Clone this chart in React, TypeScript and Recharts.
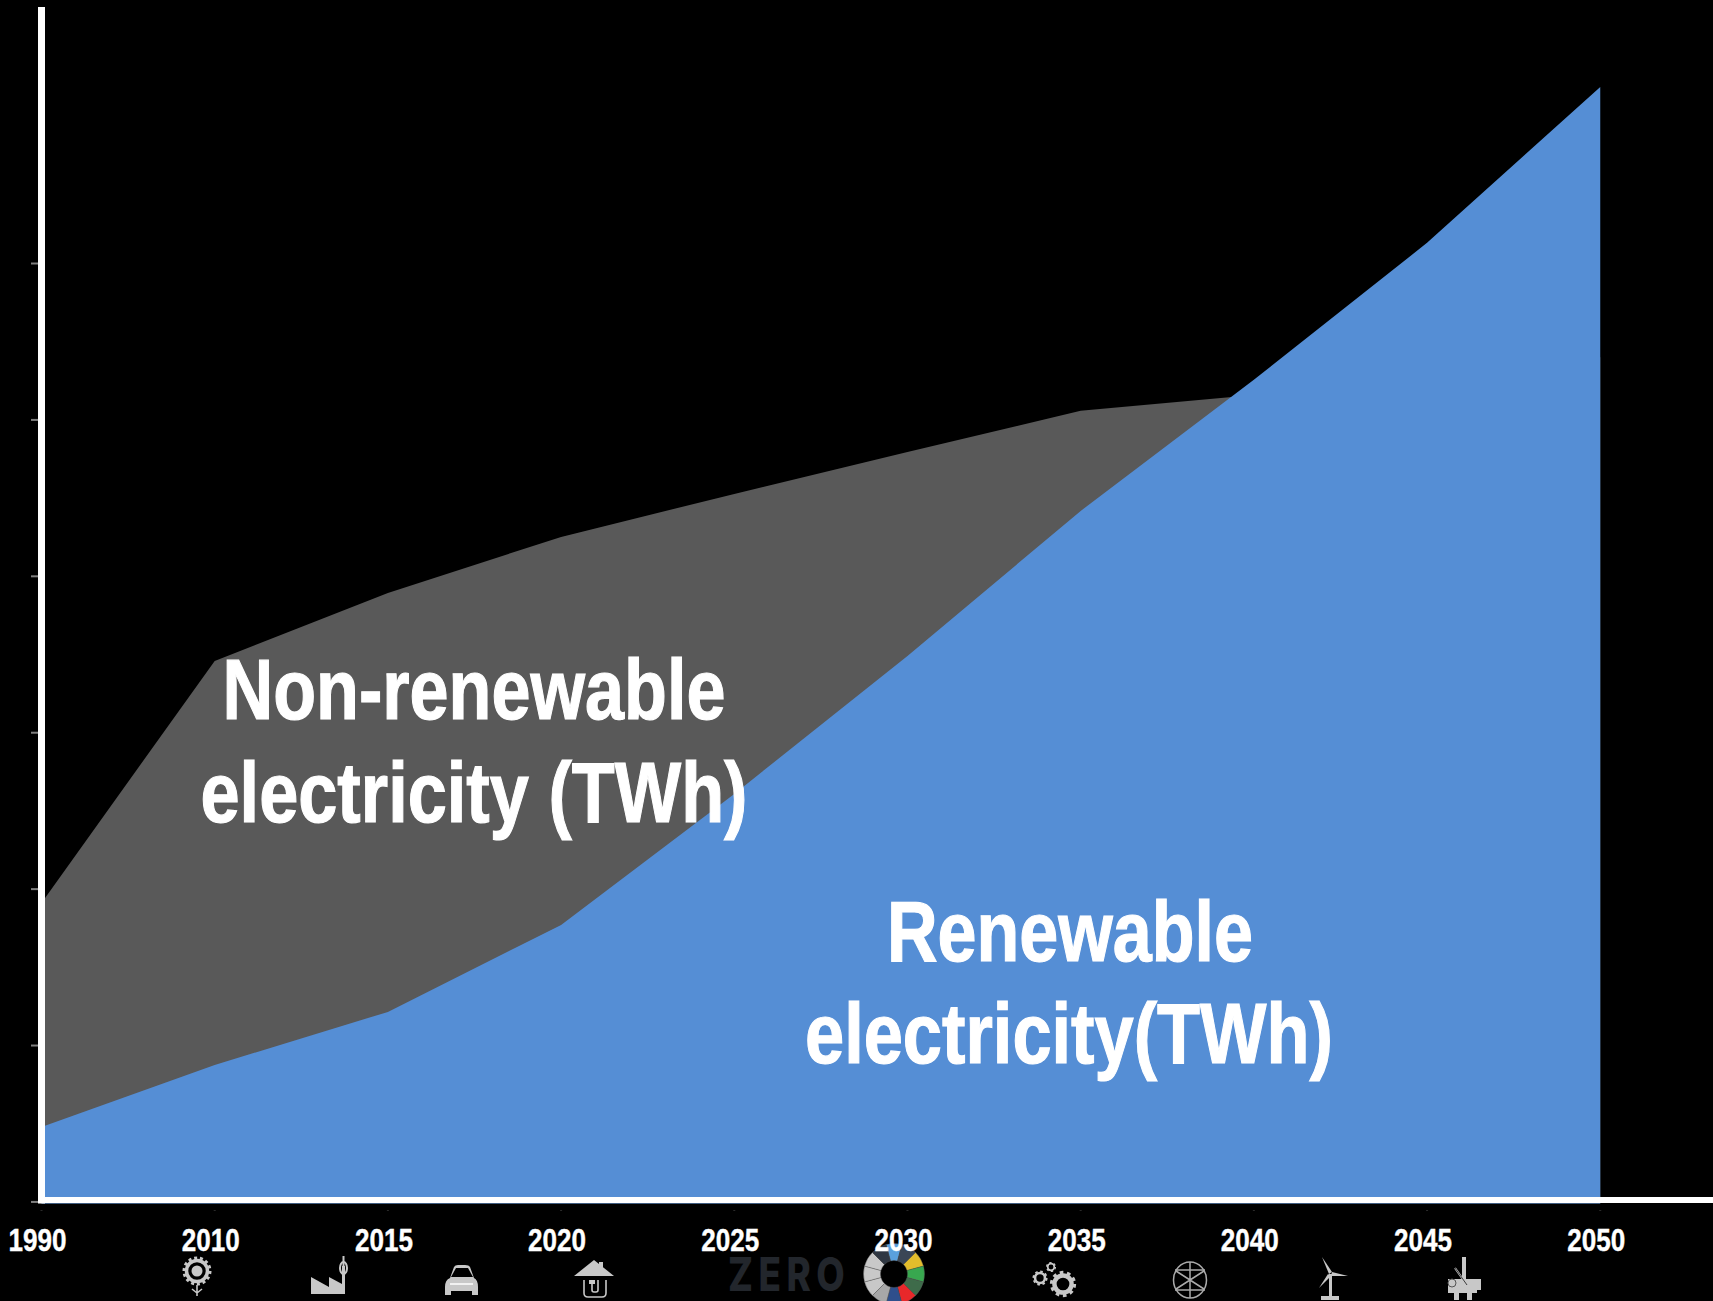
import React from 'react';
import { AreaChart, Area, XAxis, YAxis } from 'recharts';

const years = ['1990', '2010', '2015', '2020', '2025', '2030', '2035', '2040', '2045', '2050'];
const slots = [0, 1, 2, 3, 4, 5, 6, 7, 8, 9];
const renewable = [4790, 8760, 12150, 17710, 26090, 34910, 44180, 52560, 61320, 71290];
// total generation; the last two years sit behind the renewable area
const nonRenewable = [19120, 34590, 38940, 42520, 45270, 47950, 50580, 51600, 53000, 54000];
const valueTicks = [0, 10000, 20000, 30000, 40000, 50000, 60000];

const data = years.map((year, i) => ({
  year,
  slot: slots[i],
  renewable: renewable[i],
  nonRenewable: nonRenewable[i],
}));

// no narrow face is installed, so text is squeezed to width with textLength
const LABEL_FONT = '"Liberation Sans", Arial, sans-serif';
const ICON = '#c8c8c8';

const wheelColors = [
  '#5aa0dd', '#3a4656', '#e3bd2c', '#38a84f', '#3e6b4a', '#e8282a',
  '#2f4f8c', '#a8a8a8', '#c8c8c8', '#c8c8c8', '#c8c8c8', '#2f3742',
];

const YearTick = ({ x, payload }: any) => (
  <g>
    <rect x={x - 1} y={1210} width={2} height={1} fill="#2a2a2a" />
    <text
      x={x - 4}
      y={1251}
      textAnchor="middle"
      textLength={58}
      lengthAdjust="spacingAndGlyphs"
      fill="#fff"
      stroke="#fff"
      strokeWidth={0.4}
      fontFamily={LABEL_FONT}
      fontWeight={700}
      fontSize={32}
    >
      {years[payload.value]}
    </text>
  </g>
);

const ValueTick = ({ y }: any) => <rect x={31} y={y - 1} width={7} height={2} fill="#7f7f7f" />;

function slicePath(cx: number, cy: number, r0: number, r1: number, a0: number, a1: number) {
  const pt = (r: number, a: number) => {
    const rad = ((a - 90) * Math.PI) / 180;
    return `${cx + r * Math.cos(rad)} ${cy + r * Math.sin(rad)}`;
  };
  return `M${pt(r1, a0)} A${r1} ${r1} 0 0 1 ${pt(r1, a1)} L${pt(r0, a1)} A${r0} ${r0} 0 0 0 ${pt(r0, a0)} Z`;
}

const Gear = ({ cx, cy, r, teeth }: { cx: number; cy: number; r: number; teeth: number }) => {
  const toothR = r * 0.88;
  const dash = (2 * Math.PI * toothR) / teeth / 2;
  return (
    <g fill="none" stroke={ICON}>
      <circle cx={cx} cy={cy} r={r * 0.66} strokeWidth={r * 0.34} />
      <circle cx={cx} cy={cy} r={toothR} strokeWidth={r * 0.26} strokeDasharray={`${dash} ${dash}`} />
    </g>
  );
};

// sector pictograms and the ZERO logo along the bottom edge
const IconStrip = () => (
  <svg width={1713} height={1301} style={{ position: 'absolute', left: 0, top: 0 }}>
    {/* sunflower */}
    <circle cx={197} cy={1271} r={10.5} fill="none" stroke={ICON} strokeWidth={3.5} />
    <circle cx={197} cy={1271} r={13} fill="none" stroke={ICON} strokeWidth={3} strokeDasharray="3 2.8" />
    <circle cx={197} cy={1271} r={5.5} fill={ICON} />
    <path d="M197 1285V1296M197 1293L192 1289M197 1293L202 1289" stroke={ICON} strokeWidth={1.6} fill="none" />
    {/* factory */}
    <path d="M311 1277L329 1287V1277L342 1284V1266H345V1294H311Z" fill={ICON} />
    <path d="M343.5 1256V1270" stroke={ICON} strokeWidth={2} />
    <ellipse cx={343.5} cy={1268} rx={3.5} ry={6} fill="none" stroke={ICON} strokeWidth={2} />
    {/* car */}
    <path d="M445 1287Q445 1280 450 1278L454 1267Q455 1265 458 1265H465Q469 1265 470 1267L474 1278Q478 1280 478 1287V1295H472V1291H451V1295H445Z" fill={ICON} />
    <path d="M451 1277L456 1268H468L473 1277Z" fill="#000" />
    <path d="M450 1284H473" stroke="#fff" strokeWidth={1.5} />
    {/* electrified house */}
    <path d="M594 1260L614 1276H574Z" fill={ICON} />
    <rect x={599} y={1262} width={4} height={8} fill={ICON} />
    <path d="M584 1280V1293Q584 1297 588 1297H602Q606 1297 606 1293V1280M592 1281V1290Q592 1292 594 1292H596Q598 1292 598 1290V1280" fill="none" stroke={ICON} strokeWidth={1.6} />
    <rect x={589} y={1280} width={6} height={4} fill={ICON} />
    {/* logo wordmark */}
    <text
      transform="translate(728 1291) scale(0.8 1)"
      textLength={146}
      lengthAdjust="spacing"
      fill="#22262c"
      fontFamily="Inter, sans-serif"
      fontWeight={800}
      fontSize={46}
    >
      ZERO
    </text>
    {/* logo wheel */}
    {wheelColors.map((color, i) => (
      <path key={i} d={slicePath(894, 1274, 13.5, 30.5, i * 30 - 15, i * 30 + 15)} fill={color} stroke="#555" strokeWidth={0.4} />
    ))}
    {/* gears */}
    <Gear cx={1063} cy={1284} r={13} teeth={10} />
    <Gear cx={1040} cy={1278} r={7.5} teeth={8} />
    <Gear cx={1051} cy={1267} r={5} teeth={6} />
    {/* globe */}
    <g fill="none" stroke="#aaa" strokeWidth={1.5}>
      <ellipse cx={1190} cy={1280} rx={16.5} ry={18} />
      <path d="M1190 1262V1298M1175 1270H1205M1175 1290H1205M1176 1271L1204 1289M1204 1271L1176 1289" />
    </g>
    {/* wind turbine */}
    <path d="M1322 1257L1332 1272L1329 1274Z" fill={ICON} />
    <path d="M1332 1272L1348 1276L1331 1276Z" fill={ICON} />
    <path d="M1328 1274L1319 1288L1331 1276Z" fill={ICON} />
    <rect x={1329} y={1274} width={3} height={22} fill={ICON} />
    <rect x={1321} y={1296} width={18} height={4} fill={ICON} />
    {/* offshore rig */}
    <rect x={1462} y={1257} width={4} height={26} fill={ICON} />
    <path d="M1448 1279H1481V1290H1477V1293H1448Z" fill={ICON} />
    <rect x={1454} y={1293} width={5} height={7} fill={ICON} />
    <rect x={1467} y={1293} width={5} height={7} fill={ICON} />
    <path d="M1455 1268L1467 1285" stroke={ICON} strokeWidth={2} />
    <path d="M1455 1268L1467 1285" stroke="#000" strokeWidth={0.7} />
    <circle cx={1452} cy={1283} r={4} fill="none" stroke="#555" strokeWidth={1} />
  </svg>
);

const AreaLabel = ({ x, y, width, children }: { x: number; y: number; width: number; children: string }) => (
  <text
    x={x}
    y={y}
    textAnchor="middle"
    textLength={width}
    lengthAdjust="spacingAndGlyphs"
    fill="#fff"
    stroke="#fff"
    strokeWidth={1.2}
    fontFamily={LABEL_FONT}
    fontWeight={700}
    fontSize={85}
  >
    {children}
  </text>
);

export default function App() {
  return (
    <div style={{ position: 'absolute', left: 0, top: 0, width: 1713, height: 1301, background: '#000', overflow: 'hidden' }}>
      <IconStrip />
      <div style={{ position: 'absolute', left: 0, top: 0 }}>
        <AreaChart width={1713} height={1301} data={data} margin={{ top: 7, right: 0, bottom: 0, left: 0 }}>
          <XAxis
            type="number"
            dataKey="slot"
            domain={[0, 9.651]}
            ticks={slots}
            height={97.5}
            tickLine={false}
            tick={YearTick}
            interval={0}
            axisLine={{ stroke: '#fff', strokeWidth: 6, transform: 'translate(0,-3.5)' }}
          />
          <YAxis
            width={41.5}
            domain={[-100, 76400]}
            ticks={valueTicks}
            tickLine={false}
            tick={ValueTick}
            axisLine={{ stroke: '#fff', strokeWidth: 7 }}
          />
          <Area
            dataKey="nonRenewable"
            type="linear"
            baseValue={-100}
            fill="#595959"
            fillOpacity={1}
            stroke="none"
            isAnimationActive={false}
          />
          <Area
            dataKey="renewable"
            type="linear"
            baseValue={-100}
            fill="#558ed5"
            fillOpacity={1}
            stroke="none"
            isAnimationActive={false}
          />
        </AreaChart>
      </div>
      {/* area captions sit above the chart's own svg */}
      <svg width={1713} height={1301} style={{ position: 'absolute', left: 0, top: 0 }}>
        <AreaLabel x={474} y={719} width={503}>Non-renewable</AreaLabel>
        <AreaLabel x={474} y={822} width={547}>electricity (TWh)</AreaLabel>
        <AreaLabel x={1070} y={961} width={366}>Renewable</AreaLabel>
        <AreaLabel x={1069} y={1063} width={528}>electricity(TWh)</AreaLabel>
      </svg>
    </div>
  );
}
